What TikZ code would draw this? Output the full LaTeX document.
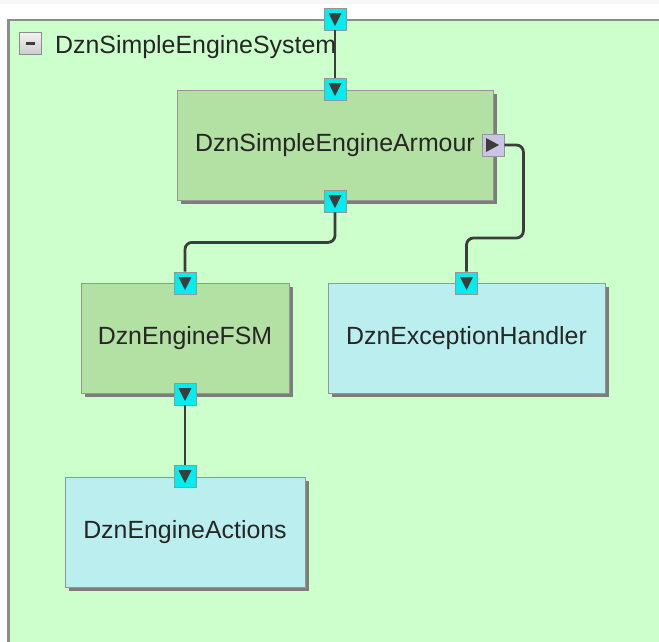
\documentclass[tikz,border=0pt]{standalone}
\usepackage{fontspec}
\setmainfont{Liberation Sans}
\usetikzlibrary{shadows}

\definecolor{sysfill}{RGB}{204,255,204}
\definecolor{sysline}{RGB}{140,140,140}
\definecolor{compgreen}{RGB}{179,224,163}
\definecolor{compblue}{RGB}{187,238,238}
\definecolor{boxline}{RGB}{150,150,150}
\definecolor{shadowgray}{RGB}{125,125,125}
\definecolor{portcyan}{RGB}{0,238,238}
\definecolor{portlav}{RGB}{204,196,232}
\definecolor{wirecol}{RGB}{60,60,60}
\definecolor{textcol}{RGB}{38,38,38}

\tikzset{
  labelfont/.style={font=\fontsize{24.9}{28}\selectfont, text=textcol},
  comp/.style={draw=boxline, line width=0.8pt, inner sep=0pt, labelfont,
    drop shadow={shadow xshift=3.8pt, shadow yshift=-3.8pt, opacity=1, fill=shadowgray}},
  greencomp/.style={comp, fill=compgreen},
  bluecomp/.style={comp, fill=compblue},
  portbase/.style={draw=boxline, line width=0.8pt, minimum size=22pt, inner sep=0pt},
  portdown/.style={portbase, fill=portcyan,
    path picture={\fill[wirecol]
      ([shift={(-6.5pt,6pt)}]path picture bounding box.center) --
      ([shift={(6.5pt,6pt)}]path picture bounding box.center) --
      ([shift={(0pt,-7pt)}]path picture bounding box.center) -- cycle;}},
  portright/.style={portbase, fill=portlav,
    path picture={\fill[wirecol]
      ([shift={(-7pt,7pt)}]path picture bounding box.center) --
      ([shift={(-7pt,-7pt)}]path picture bounding box.center) --
      ([shift={(6pt,0pt)}]path picture bounding box.center) -- cycle;}},
  wire/.style={draw=wirecol, line width=2.8pt, rounded corners=7pt},
}

\begin{document}
\begin{tikzpicture}[x=1pt, y=-1pt]
  \useasboundingbox (0,0) rectangle (659,641);
  \clip (0,0) rectangle (659,641);
  \fill[white] (0,0) rectangle (659,641);
  \fill[black!3] (0,0) rectangle (659,4);

  % system container
  \draw[sysline, line width=2.8pt, fill=sysfill] (8.5,20) rectangle (661,680);

  % collapse button and system title
  \node[draw=sysline, line width=0.8pt, minimum size=22pt, inner sep=0pt,
        top color=white!95!black, bottom color=white!80!black,
        path picture={\fill[wirecol]
          ([shift={(-4.5pt,-1.2pt)}]path picture bounding box.center) rectangle
          ([shift={(4.5pt,1.2pt)}]path picture bounding box.center);}]
        (fold) at (30.5,43.5) {};
  \node[labelfont, anchor=base west, inner sep=0pt] (systitle) at (55,53) {DznSimpleEngineSystem};

  % components
  \node[greencomp, minimum width=316pt, minimum height=110pt] (armour) at (335,145) {DznSimpleEngineArmour};
  \node[greencomp, minimum width=208pt, minimum height=110pt] (fsm) at (185,338) {DznEngineFSM};
  \node[bluecomp, minimum width=277pt, minimum height=110pt] (handler) at (466.5,338) {DznExceptionHandler};
  \node[bluecomp, minimum width=240pt, minimum height=110pt] (actions) at (185,532) {DznEngineActions};

  % ports
  \node[portdown] (sysin) at (335,19) {};
  \node[portdown] (armin) at (335,89) {};
  \node[portdown] (armout) at (335,201) {};
  \node[portright] (armerr) at (493,145) {};
  \node[portdown] (fsmin) at (185,283) {};
  \node[portdown] (fsmout) at (185,394) {};
  \node[portdown] (handin) at (466.5,283) {};
  \node[portdown] (actin) at (185,476) {};

  % bindings
  \draw[wire] (sysin.south) -- (armin.north);
  \draw[wire] (armout.south) -- ++(0,30) -| (fsmin.north);
  \draw[wire] (armerr.east) -- ++(19,0) -- ++(0,93) -| (handin.north);
  \draw[wire] (fsmout.south) -- (actin.north);
\end{tikzpicture}
\end{document}
